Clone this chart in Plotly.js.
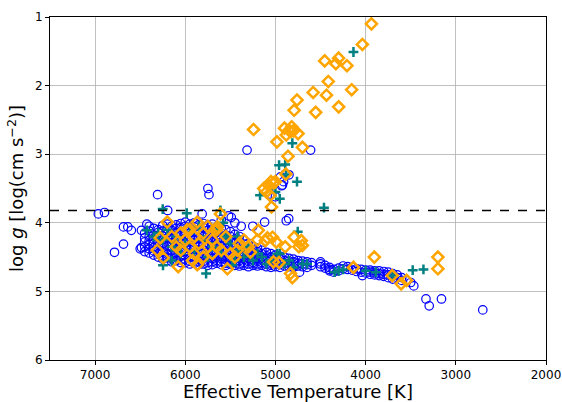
<!DOCTYPE html>
<html>
<head>
<meta charset="utf-8">
<script src="https://cdn.plot.ly/plotly-3.0.1.min.js"></script>
<style>html,body{margin:0;padding:0;background:#fff}#plot{width:562px;height:402px}</style>
</head>
<body>
<div id="plot"></div>
<script>
// Blue open circles: [Teff, logg]
var bluePoints = [
[6964,3.87],[6896,3.85],[6685,4.06],[6637,4.06],[6598,4.11],[6685,4.31],[6785,4.43],[6486,4.11],[6486,4.36],[6500,4.38],
[6426,4.02],[6307,3.59],[6195,3.82],[5813,3.87],[5749,3.50],[5737,3.59],[5315,2.94],[4610,2.94],[4893,3.29],[4850,3.30],
[4932,3.46],[4910,3.40],[5120,3.99],[4880,3.97],[4853,3.94],[5251,4.05],[5450,4.00],[5490,3.92],[5520,3.90],[5600,3.95],
[5380,4.05],[3466,4.92],[3331,5.11],[3295,5.21],[3159,5.11],[2701,5.27],[5060,3.58],[5000,3.62],[4944,3.33],[4922,3.45],
[6450,4.15],[6450,4.22],[6450,4.28],[6450,4.35],[6450,4.42],
[6400,4.05],[6400,4.12],[6400,4.20],[6400,4.26],[6400,4.31],[6400,4.38],[6400,4.44],
[6350,4.08],[6350,4.18],[6350,4.24],[6350,4.30],[6350,4.36],[6350,4.41],[6350,4.47],
[6300,4.10],[6300,4.14],[6300,4.21],[6300,4.27],[6300,4.33],[6300,4.39],[6300,4.45],[6300,4.50],
[6250,4.04],[6250,4.12],[6250,4.19],[6250,4.25],[6250,4.31],[6250,4.36],[6250,4.42],[6250,4.48],[6250,4.53],
[6200,4.02],[6200,4.09],[6200,4.15],[6200,4.22],[6200,4.28],[6200,4.34],[6200,4.40],[6200,4.46],[6200,4.51],[6200,4.55],
[6150,4.05],[6150,4.11],[6150,4.17],[6150,4.23],[6150,4.29],[6150,4.35],[6150,4.41],[6150,4.47],[6150,4.52],[6150,4.57],
[6100,4.03],[6100,4.08],[6100,4.14],[6100,4.20],[6100,4.27],[6100,4.33],[6100,4.38],[6100,4.44],[6100,4.50],[6100,4.55],
[6050,4.01],[6050,4.07],[6050,4.13],[6050,4.19],[6050,4.25],[6050,4.31],[6050,4.37],[6050,4.43],[6050,4.49],[6050,4.54],[6050,4.58],
[6000,3.99],[6000,4.05],[6000,4.12],[6000,4.18],[6000,4.24],[6000,4.30],[6000,4.36],[6000,4.42],[6000,4.48],[6000,4.53],[6000,4.58],
[5950,4.02],[5950,4.08],[5950,4.15],[5950,4.21],[5950,4.27],[5950,4.33],[5950,4.39],[5950,4.45],[5950,4.51],[5950,4.56],[5950,4.60],
[5900,4.00],[5900,4.06],[5900,4.13],[5900,4.19],[5900,4.25],[5900,4.32],[5900,4.38],[5900,4.44],[5900,4.50],[5900,4.55],[5900,4.59],
[5850,4.03],[5850,4.10],[5850,4.16],[5850,4.22],[5850,4.28],[5850,4.34],[5850,4.40],[5850,4.46],[5850,4.52],[5850,4.57],[5850,4.61],
[5800,4.01],[5800,4.07],[5800,4.14],[5800,4.20],[5800,4.26],[5800,4.33],[5800,4.39],[5800,4.45],[5800,4.51],[5800,4.56],[5800,4.60],
[5750,4.04],[5750,4.11],[5750,4.17],[5750,4.23],[5750,4.29],[5750,4.36],[5750,4.42],[5750,4.48],[5750,4.53],[5750,4.58],[5750,4.62],
[5700,4.02],[5700,4.09],[5700,4.15],[5700,4.21],[5700,4.28],[5700,4.34],[5700,4.40],[5700,4.46],[5700,4.52],[5700,4.57],[5700,4.61],
[5650,4.06],[5650,4.13],[5650,4.19],[5650,4.25],[5650,4.31],[5650,4.37],[5650,4.43],[5650,4.49],[5650,4.55],[5650,4.59],
[5600,4.08],[5600,4.15],[5600,4.22],[5600,4.28],[5600,4.34],[5600,4.40],[5600,4.46],[5600,4.52],[5600,4.57],[5600,4.61],
[5550,4.10],[5550,4.18],[5550,4.25],[5550,4.31],[5550,4.37],[5550,4.43],[5550,4.49],[5550,4.54],[5550,4.59],[5550,4.62],
[5500,4.13],[5500,4.20],[5500,4.27],[5500,4.33],[5500,4.39],[5500,4.45],[5500,4.51],[5500,4.56],[5500,4.60],
[5450,4.17],[5450,4.24],[5450,4.30],[5450,4.36],[5450,4.42],[5450,4.48],[5450,4.53],[5450,4.58],[5450,4.62],
[5400,4.20],[5400,4.27],[5400,4.33],[5400,4.39],[5400,4.45],[5400,4.50],[5400,4.55],[5400,4.60],[5400,4.63],
[5350,4.25],[5350,4.31],[5350,4.37],[5350,4.43],[5350,4.48],[5350,4.53],[5350,4.58],[5350,4.62],
[5300,4.30],[5300,4.36],[5300,4.41],[5300,4.46],[5300,4.51],[5300,4.56],[5300,4.60],[5300,4.64],
[5250,4.34],[5250,4.39],[5250,4.44],[5250,4.49],[5250,4.54],[5250,4.58],[5250,4.62],
[5200,4.37],[5200,4.42],[5200,4.47],[5200,4.52],[5200,4.56],[5200,4.60],[5200,4.63],
[5150,4.40],[5150,4.45],[5150,4.50],[5150,4.54],[5150,4.58],[5150,4.62],
[5100,4.43],[5100,4.48],[5100,4.52],[5100,4.56],[5100,4.60],[5100,4.64],
[5050,4.45],[5050,4.50],[5050,4.54],[5050,4.58],[5050,4.62],[5050,4.65],
[5000,4.47],[5000,4.52],[5000,4.56],[5000,4.60],[5000,4.64],
[4950,4.49],[4950,4.53],[4950,4.57],[4950,4.61],[4950,4.65],
[4900,4.50],[4900,4.55],[4900,4.59],[4900,4.63],
[4850,4.52],[4850,4.56],[4850,4.60],[4850,4.64],
[4800,4.53],[4800,4.57],[4800,4.61],[4800,4.65],
[4750,4.55],[4750,4.59],[4750,4.63],
[4700,4.56],[4700,4.60],[4700,4.64],[4733,4.72],
[4650,4.57],[4650,4.61],[4650,4.65],
[4600,4.58],[4600,4.62],
[4500,4.57],[4500,4.60],[4500,4.64],
[4450,4.62],[4450,4.66],
[4400,4.65],[4400,4.68],[4400,4.70],
[4350,4.68],[4355,4.72],
[4300,4.66],[4300,4.70],
[4250,4.63],[4250,4.67],
[4200,4.64],[4200,4.68],
[4150,4.65],[4150,4.69],
[4100,4.67],[4100,4.71],
[4050,4.68],[4050,4.72],[4036,4.77],
[4000,4.69],[4000,4.73],
[3950,4.69],[3950,4.72],[3950,4.75],
[3900,4.70],[3900,4.73],[3900,4.76],
[3850,4.70],[3850,4.74],[3850,4.77],
[3800,4.71],[3800,4.75],[3800,4.78],
[3750,4.72],[3750,4.76],[3750,4.80],
[3700,4.74],[3700,4.78],[3700,4.82],
[3650,4.76],[3650,4.80],
[3600,4.80],[3600,4.84],
[3550,4.84],[3500,4.87]
];
var blueTeff = bluePoints.map(function(p){return p[0];});
var blueLogg = bluePoints.map(function(p){return p[1];});

// Teal plus markers
var tealTeff = [4135,4813,4960,4892,4761,5171,4952,4462,5050,5000,4880,
  6250,5984,6426,6350,6300,6250,6200,6150,6100,6050,6000,5950,5900,5850,5800,5750,5700,5650,5600,5580,5550,5500,5450,5420,5400,5350,5300,5250,5200,5150,5100,5050,4980,4952,4900,4850,4800,4753,4700,4650,6247,5769,6150,5610,5480,4343,4300,4250,3888,3700,3478,3359,4000];
var tealLogg = [1.51,2.84,3.16,3.15,3.40,3.60,3.65,3.78,3.50,3.55,3.30,
  3.80,3.86,4.11,4.20,4.15,4.25,4.10,4.35,4.20,4.45,4.30,4.15,4.40,4.05,4.25,4.50,4.35,4.10,4.45,4.00,4.20,4.30,4.55,4.20,4.40,4.50,4.35,4.55,4.45,4.50,4.60,4.55,4.45,4.45,4.60,4.55,4.65,4.13,4.60,4.60,4.62,4.74,4.55,3.82,4.62,4.72,4.70,4.68,4.72,4.77,4.69,4.68,4.70];

// Orange open diamonds
var orangeTeff = [3936,4036,4454,4330,4300,4207,4414,4582,4434,4155,4299,4761,4793,4554,5243,
  4900,4850,4820,4800,4750,4880,4830,4984,4701,4861,4885,5130,5080,5050,5020,5100,5060,5000,5044,5610,
  6200,6278,6311,6244,6078,5867,5533,5978,5867,5644,5422,5278,5200,5089,5022,
  6150,6100,6050,6050,6000,5950,5950,5900,5900,5850,5800,5800,5750,5750,5700,5700,5650,5650,5600,5550,5500,5450,5400,5350,5300,
  5191,5112,5032,4992,4960,4793,4713,4701,4740,4892,4833,4813,4135,3904,3705,3606,3546,3199,3199,5669,5920];
var orangeLogg = [1.10,1.40,1.64,1.68,1.60,1.71,1.94,2.10,2.14,2.06,2.31,2.21,2.36,2.39,2.64,
  2.62,2.65,2.60,2.66,2.70,2.72,2.67,2.82,2.90,3.03,3.29,3.50,3.45,3.40,3.42,3.55,3.60,3.40,3.77,3.87,
  3.99,4.22,4.40,4.51,4.64,4.61,4.67,4.10,3.99,4.06,4.40,4.43,4.25,4.22,4.57,
  4.20,4.35,4.15,4.40,4.25,4.10,4.35,4.45,4.20,4.30,4.50,4.15,4.05,4.35,4.25,4.45,4.10,4.35,4.40,4.20,4.45,4.50,4.30,4.25,4.35,
  4.11,4.26,4.21,4.28,4.58,4.21,4.26,4.33,4.35,4.35,4.74,4.80,4.65,4.50,4.77,4.89,4.84,4.50,4.67,4.11,4.55];

var xTicks = [7000,6000,5000,4000,3000,2000];
var yTicks = [1,2,3,4,5,6];
var loggLimit = 3.82;

var traces = [
  {x: blueTeff, y: blueLogg, type: 'scatter', mode: 'markers',
   marker: {symbol: 'circle-open', size: 8.5, color: '#0000ff', line: {width: 1.2, color: '#0000ff'}}},
  {x: tealTeff, y: tealLogg, type: 'scatter', mode: 'markers',
   marker: {symbol: 'cross-thin-open', size: 7, color: '#008080', line: {width: 2.5, color: '#008080'}}},
  {x: orangeTeff, y: orangeLogg, type: 'scatter', mode: 'markers',
   marker: {symbol: 'diamond-open', size: 8.5, color: '#ffa500', line: {width: 2.5, color: '#ffa500'}}}
];

var axisCommon = {
  showline: true, mirror: true, linecolor: '#000', linewidth: 1,
  ticks: 'outside', ticklen: 4, tickcolor: '#000', tickwidth: 1,
  showgrid: true, gridcolor: '#b0b0b0', gridwidth: 0.8, zeroline: false,
  tickfont: {family: 'DejaVu Sans', size: 12, color: '#000'}
};

var layout = {
  width: 562, height: 402,
  margin: {l: 50, r: 16, t: 17, b: 42},
  paper_bgcolor: '#fff', plot_bgcolor: '#fff',
  showlegend: false,
  font: {family: 'DejaVu Sans', color: '#000'},
  xaxis: Object.assign({}, axisCommon, {
    range: [7500, 2000], tickvals: xTicks, ticktext: xTicks.map(String),
    title: {text: 'Effective Temperature [K]', font: {family: 'DejaVu Sans', size: 18, color: '#000'}, standoff: 2}
  }),
  yaxis: Object.assign({}, axisCommon, {
    range: [6, 1], tickvals: yTicks, ticktext: yTicks.map(String),
    title: {text: 'log <i>g</i> [log(cm s<sup>−2</sup>)]', font: {family: 'DejaVu Sans', size: 18, color: '#000'}, standoff: 6}
  }),
  shapes: [{type: 'line', xref: 'paper', x0: 0, x1: 1, yref: 'y', y0: loggLimit, y1: loggLimit,
            line: {color: '#000', width: 1.5, dash: 'dash'}}]
};

Plotly.newPlot('plot', traces, layout, {displayModeBar: false, staticPlot: true});
</script>
</body>
</html>
